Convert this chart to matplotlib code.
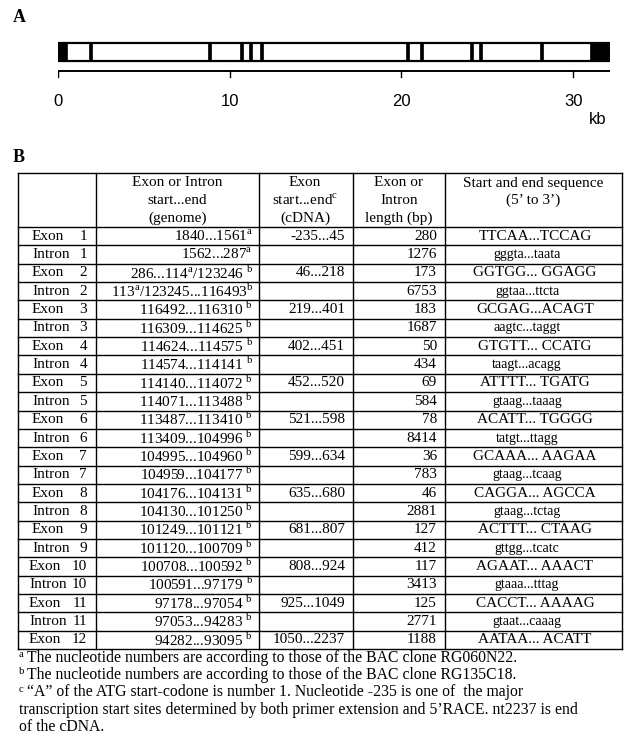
import numpy as np
import matplotlib.pyplot as plt
from matplotlib.patches import Rectangle

plt.rcParams['font.family'] = 'Liberation Serif'
plt.rcParams['mathtext.fontset'] = 'custom'
plt.rcParams['mathtext.rm'] = 'Liberation Serif'

# ---- data ----
feature = ['Exon', 'Intron'] * 11 + ['Exon']
number = [1, 1, 2, 2, 3, 3, 4, 4, 5, 5, 6, 6, 7, 7, 8, 8, 9, 9, 10, 10, 11, 11, 12]
genome = ['1840...1561^a', '1562...287^a', '286...114^a/123246 ^b', '113^a/123245...116493^b',
          '116492...116310 ^b', '116309...114625 ^b', '114624...114575 ^b', '114574...114141 ^b',
          '114140...114072 ^b', '114071...113488 ^b', '113487...113410 ^b', '113409...104996 ^b',
          '104995...104960 ^b', '104959...104177 ^b', '104176...104131 ^b', '104130...101250 ^b',
          '101249...101121 ^b', '101120...100709 ^b', '100708...100592 ^b', '100591...97179 ^b',
          '97178...97054 ^b', '97053...94283 ^b', '94282...93095 ^b']
cdna = ['-235...45', '', '46...218', '', '219...401', '', '402...451', '', '452...520', '',
        '521...598', '', '599...634', '', '635...680', '', '681...807', '', '808...924', '',
        '925...1049', '', '1050...2237']
length_bp = [280, 1276, 173, 6753, 183, 1687, 50, 434, 69, 584, 78, 8414, 36, 783, 46, 2881,
             127, 412, 117, 3413, 125, 2771, 1188]
seq = ['TTCAA...TCCAG', 'gggta...taata', 'GGTGG... GGAGG', 'ggtaa...ttcta', 'GCGAG...ACAGT',
       'aagtc...taggt', 'GTGTT... CCATG', 'taagt...acagg', 'ATTTT... TGATG', 'gtaag...taaag',
       'ACATT... TGGGG', 'tatgt...ttagg', 'GCAAA... AAGAA', 'gtaag...tcaag', 'CAGGA... AGCCA',
       'gtaag...tctag', 'ACTTT... CTAAG', 'gttgg...tcatc', 'AGAAT... AAACT', 'gtaaa...tttag',
       'CACCT... AAAAG', 'gtaat...caaag', 'AATAA... ACATT']
gene_start_kb = 0.27
scale_ticks = [0, 10, 20, 30]

headers = [['Exon or Intron', 'start...end', '(genome)'],
           ['Exon', 'start...end$^{\\rm c}$', '(cDNA)'],
           ['Exon or', 'Intron', 'length (bp)'],
           ['Start and end sequence', '(5\u2019 to 3\u2019)']]
notes = [('a', 'The nucleotide numbers are according to those of the BAC clone RG060N22.'),
         ('b', 'The nucleotide numbers are according to those of the BAC clone RG135C18.'),
         ('c', '\u201cA\u201d of the ATG start-codone is number 1. Nucleotide -235 is one of  the major'),
         ('', 'transcription start sites determined by both primer extension and 5\u2019RACE. nt2237 is end'),
         ('', 'of the cDNA.')]


def sup(s):
    return s.replace('^a', '$^{\\rm a}$').replace('^b', '$^{\\rm b}$')


W, H = 624, 742
fig = plt.figure(figsize=(W / 100, H / 100), dpi=100)
ax = fig.add_axes([0, 0, 1, 1])
ax.set_xlim(0, W)
ax.set_ylim(H, 0)
ax.axis('off')

# ---- panel A: gene map ----
ax.text(13, 17, 'A', fontsize=13, fontweight='bold', va='center')
ends = gene_start_kb + np.cumsum(length_bp) / 1000.0
starts = ends - np.array(length_bp) / 1000.0
gene_end = ends[-1]

axA = fig.add_axes([58 / W, 1 - 125 / H, 552 / W, 90 / H])
axA.set_xlim(0, gene_end)
axA.set_ylim(125, 35)
axA.axis('off')
axA.add_patch(Rectangle((0, 43), gene_end, 18, fill=False, ec='black', lw=1.6))
for i in range(len(feature)):
    if feature[i] != 'Exon':
        continue
    x0 = 0 if i == 0 else starts[i]
    w = max(ends[i] - x0, 0.17)
    axA.add_patch(Rectangle((x0, 43), w, 18, fc='black', ec='black', lw=0.5))
axA.plot([0, gene_end], [71, 71], color='black', lw=1.4, solid_capstyle='butt')
for t in scale_ticks:
    axA.plot([t, t], [71, 77], color='black', lw=1.0)
    axA.text(t, 101, str(t), ha='center', va='center', family='Liberation Sans', fontsize=12)
ax.text(598, 119, 'kb', ha='center', va='center', family='Liberation Sans', fontsize=12)

# ---- panel B: table ----
ax.text(13, 157, 'B', fontsize=13, fontweight='bold', va='center')
col_x = [18, 96, 259, 353, 445, 622]
top, head_bot, row_h = 173, 227, 18.35
n = len(feature)
bottom = head_bot + row_h * n

for y in [top, head_bot] + [head_bot + row_h * k for k in range(1, n + 1)]:
    ax.plot([col_x[0], col_x[-1]], [y, y], color='black', lw=1.0)
for x in col_x:
    ax.plot([x, x], [top, bottom], color='black', lw=1.0)

hc = [(col_x[1] + col_x[2]) / 2, 305, 399, 533]
for j, lines in enumerate(headers):
    for k, s in enumerate(lines):
        ax.text(hc[j], 183 + 17.5 * k, s, ha='center', va='center', fontsize=11)

for i in range(n):
    yc = head_bot + row_h * (i + 0.5)
    lx = 29 if number[i] >= 10 else 32
    ax.text(lx, yc, feature[i], ha='left', va='center', fontsize=11)
    ax.text(87, yc, str(number[i]), ha='right', va='center', fontsize=11)
    ax.text(253, yc, sup(genome[i]), ha='right', va='center', fontsize=11)
    if cdna[i]:
        ax.text(345, yc, cdna[i], ha='right', va='center', fontsize=11)
    ax.text(437, yc, str(length_bp[i]), ha='right', va='center', fontsize=11)
    if feature[i] == 'Exon':
        ax.text(535, yc, seq[i], ha='center', va='center', fontsize=11)
    else:
        ax.text(527, yc, seq[i], ha='center', va='center', fontsize=10)

# ---- footnotes ----
for k, (m, s) in enumerate(notes):
    y = 658 + 17.2 * k
    if m:
        ax.text(18, y, '$^{\\rm %s}$' % m, ha='left', va='center', fontsize=11)
        ax.text(27, y, s, ha='left', va='center', fontsize=11.3)
    else:
        ax.text(19, y, s, ha='left', va='center', fontsize=11.3)

fig.savefig('out.png', dpi=100)
